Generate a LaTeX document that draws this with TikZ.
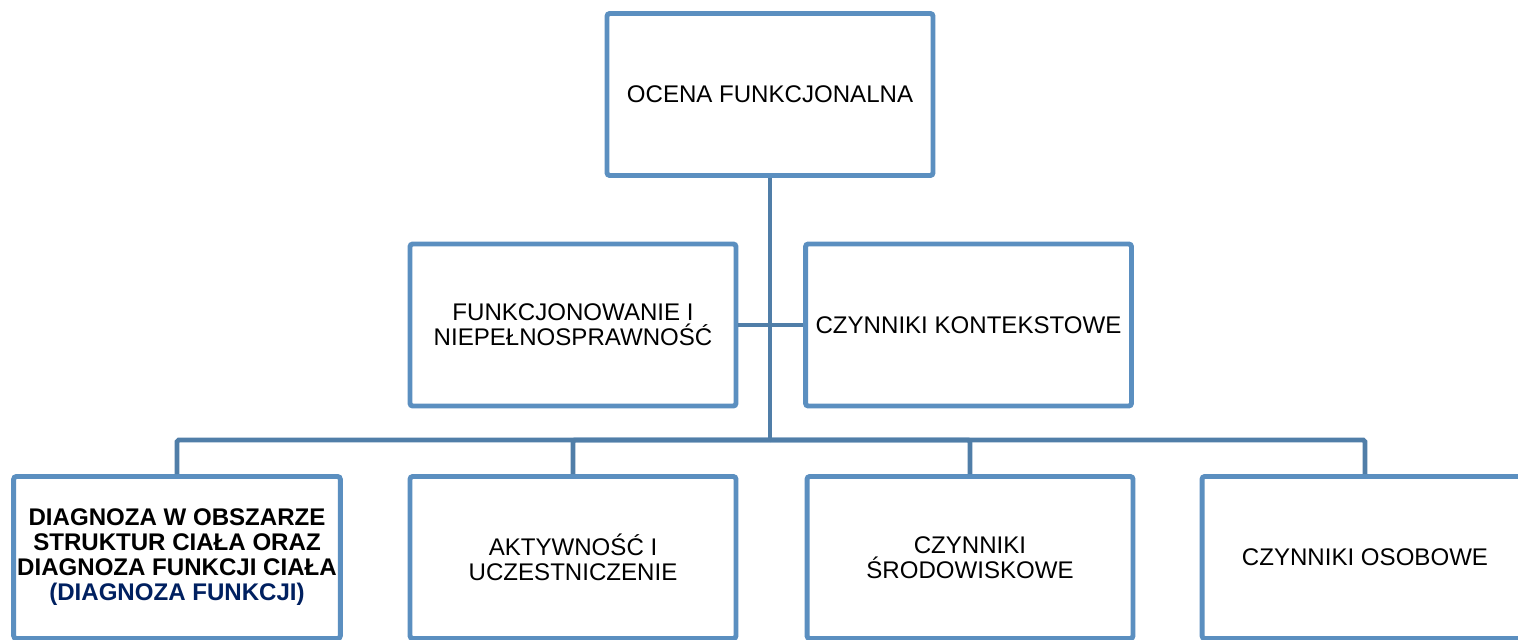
\documentclass[tikz,border=0pt]{standalone}
\usepackage{fontspec}
\setmainfont{Liberation Sans}
\definecolor{boxblue}{RGB}{91, 143, 192}
\definecolor{linkblue}{RGB}{80, 126, 168}
\definecolor{navytext}{RGB}{0, 32, 96}
\usetikzlibrary{positioning}

\begin{document}
\begin{tikzpicture}[
  x=0.02cm, y=-0.02cm,
  icfbox/.style={draw=boxblue, line width=2.8pt, fill=white, rounded corners=1.5pt, minimum width=6.52cm, minimum height=3.24cm, align=center, inner sep=2pt, font=\fontsize{13.7}{14.2}\selectfont},
  link/.style={draw=linkblue, line width=2.8pt, rounded corners=1pt}
]
  \clip (0,0) rectangle (1518,639);
  \useasboundingbox (0,0) rectangle (1518,639);

  \coordinate (hub) at (770,440);

  \node[icfbox] (ocena) at (770,94.5) {OCENA FUNKCJONALNA};
  \node[icfbox] (funk) at (573,325) {FUNKCJONOWANIE I\\NIEPEŁNOSPRAWNOŚĆ};
  \node[icfbox] (kontekst) at (968.5,325) {CZYNNIKI KONTEKSTOWE};

  \node[icfbox] (diag) at (177,557.5) {\bfseries DIAGNOZA W OBSZARZE\\\bfseries STRUKTUR CIAŁA ORAZ\\\bfseries DIAGNOZA FUNKCJI CIAŁA\\\bfseries\textcolor{navytext}{(DIAGNOZA FUNKCJI)}};
  \node[icfbox] (aktyw) at (573,557.5) {AKTYWNOŚĆ I\\UCZESTNICZENIE};
  \node[icfbox] (srod) at (970,557.5) {CZYNNIKI\\ŚRODOWISKOWE};
  \node[icfbox] (osob) at (1365,557.5) {CZYNNIKI OSOBOWE};

  \draw[link] (ocena.south) -- (hub);
  \draw[link] (funk.east) -- (kontekst.west);
  \draw[link] (diag.north) |- (hub);
  \draw[link] (aktyw.north) |- (hub);
  \draw[link] (srod.north) |- (hub);
  \draw[link] (osob.north) |- (hub);
\end{tikzpicture}
\end{document}
